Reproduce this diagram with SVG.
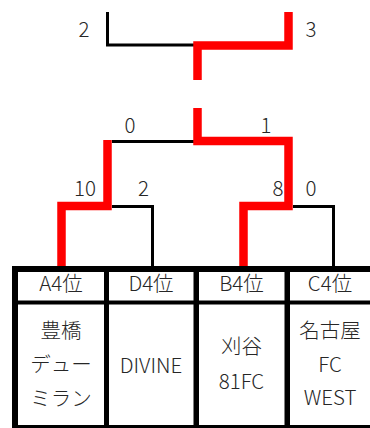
<svg xmlns="http://www.w3.org/2000/svg" width="370" height="428" viewBox="0 0 370 428">
<style>
.t{font-family:"Noto Sans CJK JP","Noto Sans",sans-serif;font-size:20.5px;font-weight:300;fill:#262626;text-anchor:middle}
.b{fill:none;stroke:#000;stroke-width:3}
.r{fill:none;stroke:#f00;stroke-width:8.5;stroke-linejoin:miter}
.tb{fill:#000}
</style>
<rect width="370" height="428" fill="#fff"/>
<g id="connectors">
<polyline class="b" points="107.5,12 107.5,45 197,45"/>
<polyline class="b" points="112,141.5 197,141.5"/>
<polyline class="b" points="112,206.5 152.5,206.5 152.5,268"/>
<polyline class="b" points="293,206.5 333.5,206.5 333.5,268"/>
<polyline class="r" points="288.5,12 288.5,45.5 197.5,45.5 197.5,80"/>
<polyline class="r" points="197.5,108 197.5,141 288.5,141 288.5,206 243.5,206 243.5,268"/>
<polyline class="r" points="107.5,140 107.5,206 61.5,206 61.5,268"/>
</g>
<g id="scores">
<text class="t" x="84" y="37">2</text>
<text class="t" x="311" y="37">3</text>
<text class="t" x="130" y="133">0</text>
<text class="t" x="266" y="133">1</text>
<text class="t" x="85" y="196">10</text>
<text class="t" x="143.5" y="196">2</text>
<text class="t" x="278" y="196">8</text>
<text class="t" x="311" y="196">0</text>
</g>
<g id="table">
<rect class="tb" x="12" y="266" width="358" height="6"/>
<rect class="tb" x="12" y="300.5" width="358" height="4"/>
<rect class="tb" x="12" y="425" width="358" height="3"/>
<rect class="tb" x="12" y="266" width="6" height="162"/>
<rect class="tb" x="104" y="266" width="5" height="162"/>
<rect class="tb" x="193.5" y="266" width="5.5" height="162"/>
<rect class="tb" x="284.5" y="266" width="5.5" height="162"/>
</g>
<g id="teamA">
<text class="t" x="61" y="291">A4位</text>
<text class="t" x="61" y="338">豊橋</text>
<text class="t" x="61" y="372">デュー</text>
<text class="t" x="61" y="406">ミラン</text>
</g>
<g id="teamD">
<text class="t" x="151" y="373">DIVINE</text>
<text class="t" x="151" y="291">D4位</text>
</g>
<g id="teamB">
<text class="t" x="241.5" y="291">B4位</text>
<text class="t" x="241.5" y="354">刈谷</text>
<text class="t" x="241.5" y="389">81FC</text>
</g>
<g id="teamC">
<text class="t" x="330" y="291">C4位</text>
<text class="t" x="330" y="338">名古屋</text>
<text class="t" x="330" y="372">FC</text>
<text class="t" x="330" y="405">WEST</text>
</g>
</svg>
